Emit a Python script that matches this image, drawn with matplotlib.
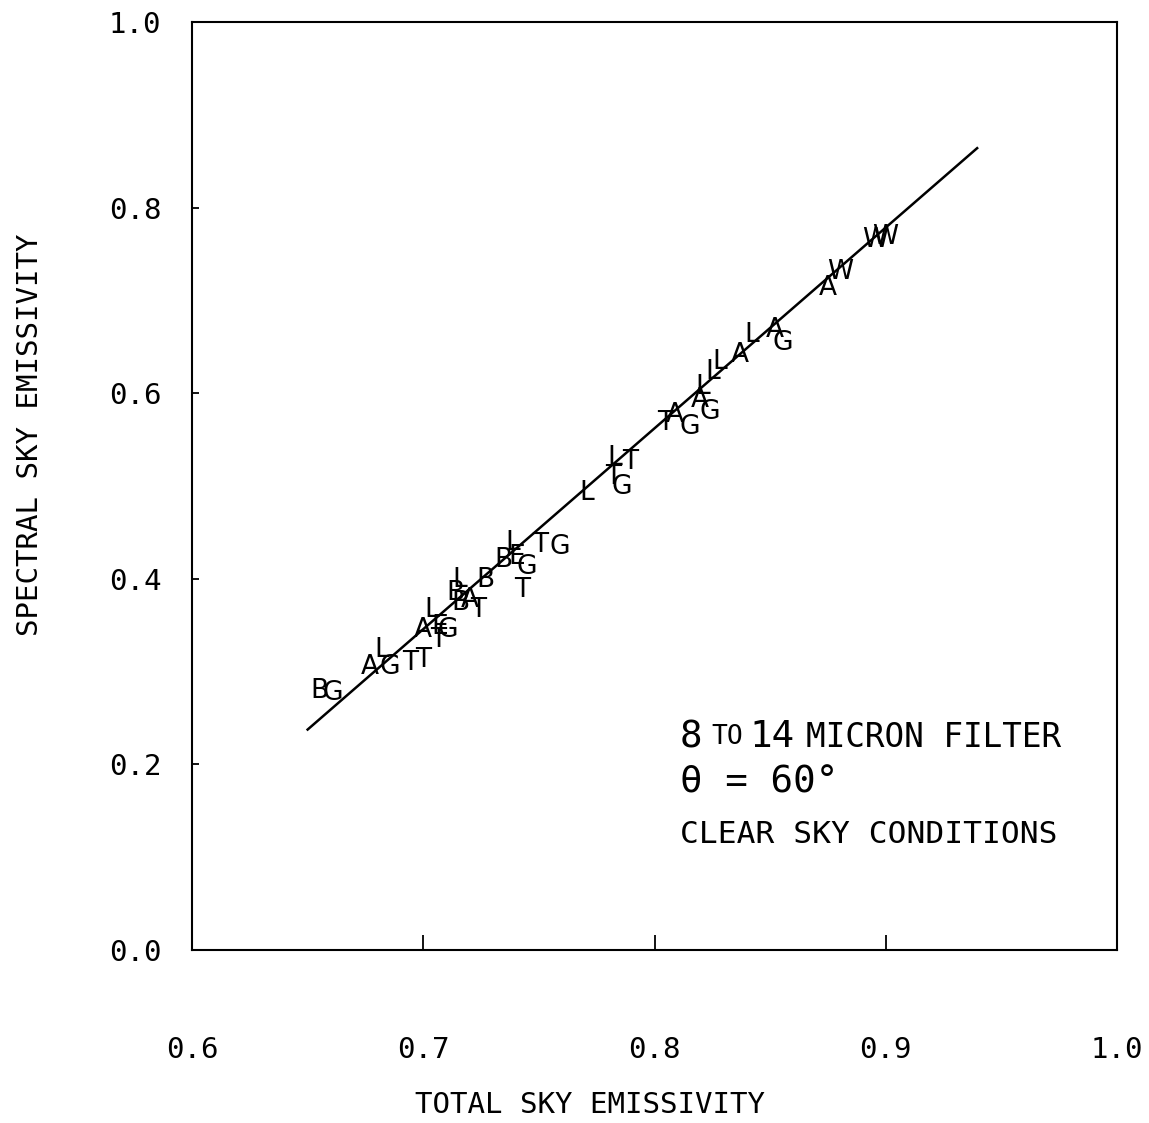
import matplotlib
matplotlib.use("Agg")
import numpy as np
from matplotlib import pyplot as plt

plt.rcParams['font.family'] = ['DejaVu Sans Mono', 'DejaVu Sans']

# station codes plotted as letters
codes = ['B', 'G', 'A', 'L', 'G', 'T', 'T', 'T', 'A', 'L',
         'G', 'E', 'B', 'L', 'B', 'A', 'T', 'B', 'B', 'L',
         'G', 'T', 'T', 'G', 'E', 'L', 'L', 'T', 'T', 'G',
         'T', 'A', 'G', 'A', 'G', 'L', 'L', 'L', 'A', 'L',
         'A', 'G', 'A', 'W', 'W', 'W']
total_emis = [0.655, 0.661, 0.677, 0.6822, 0.6856, 0.6943, 0.6999, 0.7064, 0.6999, 0.7038,
              0.7107, 0.7072, 0.7137, 0.7159, 0.7267, 0.7202, 0.7237, 0.7159, 0.7345, 0.7388,
              0.7449, 0.7427, 0.7505, 0.7591, 0.7405, 0.7708, 0.7829, 0.7894, 0.782, 0.786,
              0.8045, 0.8089, 0.8154, 0.8197, 0.824, 0.821, 0.8253, 0.8283, 0.837, 0.8422,
              0.852, 0.8556, 0.875, 0.8802, 0.8954, 0.8997]
spectral_emis = [0.279, 0.277, 0.305, 0.323, 0.305, 0.309, 0.3125, 0.334, 0.345, 0.366,
                 0.345, 0.348, 0.385, 0.399, 0.399, 0.377, 0.366, 0.374, 0.420, 0.4386,
                 0.413, 0.388, 0.436, 0.434, 0.4235, 0.4925, 0.530, 0.526, 0.510, 0.499,
                 0.568, 0.5765, 0.5636, 0.5927, 0.5797, 0.607, 0.623, 0.634, 0.641, 0.6627,
                 0.668, 0.654, 0.713, 0.7306, 0.765, 0.768]

# fitted line
fit_slope = 2.164
fit_icpt = -1.169
fit_range = [0.650, 0.9395]

xticks = [0.6, 0.7, 0.8, 0.9, 1.0]
yticks = [0.0, 0.2, 0.4, 0.6, 0.8, 1.0]

fig = plt.figure(figsize=(11.49, 11.23), dpi=100)
ax = fig.add_axes([0.1671, 0.154, 0.8051, 0.8264])

for c, x, y in zip(codes, total_emis, spectral_emis):
    ax.text(x, y, c, fontsize=19, family='DejaVu Sans', ha='center', va='center')

xf = np.array(fit_range)
ax.plot(xf, fit_slope * xf + fit_icpt, color='black', lw=1.8)

ax.set_xlim(0.6, 1.0)
ax.set_ylim(0.0, 1.0)
ax.set_xticks(xticks)
ax.set_yticks(yticks)
ax.set_xticklabels(['%.1f' % v for v in xticks], fontsize=21)
ax.set_yticklabels(['%.1f' % v for v in yticks], fontsize=21)
ax.tick_params(axis='x', direction='in', length=11, width=1.3, pad=62)
ax.tick_params(axis='y', direction='in', length=5, width=1.3, pad=22)
for s in ax.spines.values():
    s.set_linewidth(1.5)

ax.set_xlabel('TOTAL SKY EMISSIVITY', fontsize=21)
ax.xaxis.set_label_coords(0.43, -0.152)
ax.set_ylabel('SPECTRAL SKY EMISSIVITY', fontsize=21)
ax.yaxis.set_label_coords(-0.160, 0.555)

# annotation block
ax.text(0.5276, 0.2295, '8', transform=ax.transAxes, fontsize=27, va='center', ha='left')
ax.text(0.561, 0.2295, 'TO', transform=ax.transAxes, fontsize=19, va='center', ha='left')
ax.text(0.603, 0.2295, '14', transform=ax.transAxes, fontsize=27, va='center', ha='left')
ax.text(0.664, 0.2295, 'MICRON FILTER', transform=ax.transAxes, fontsize=23.5, va='center', ha='left')
ax.text(0.5276, 0.181, '\u03b8 = 60\u00b0', transform=ax.transAxes, fontsize=27, va='center', ha='left')
ax.text(0.5276, 0.125, 'CLEAR SKY CONDITIONS', transform=ax.transAxes, fontsize=22.5, va='center', ha='left')

fig.savefig('out.png', dpi=100, facecolor='white')
